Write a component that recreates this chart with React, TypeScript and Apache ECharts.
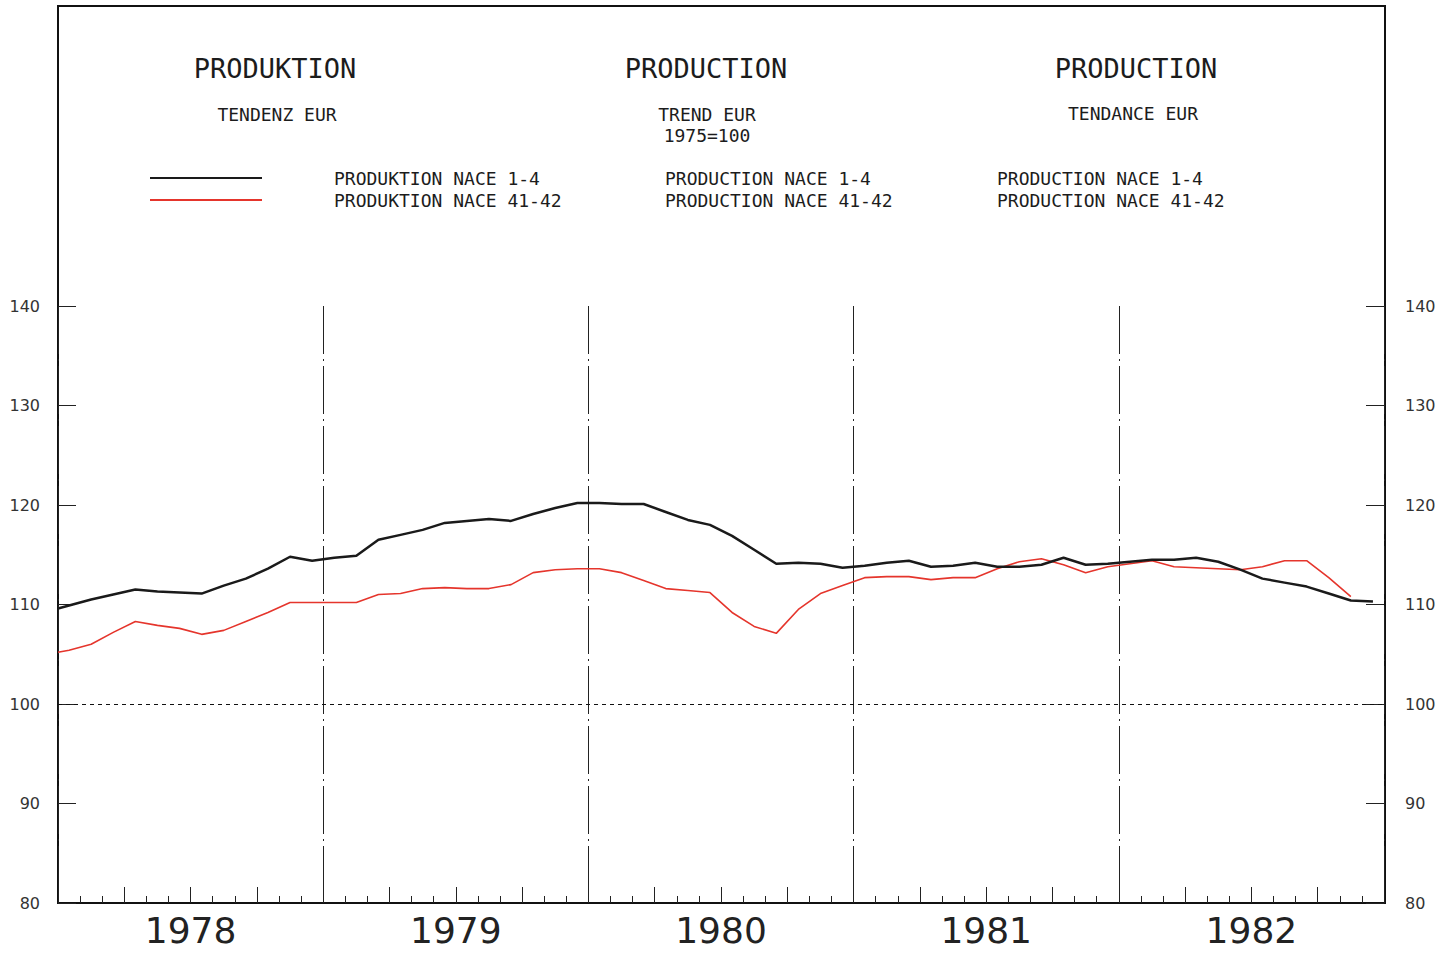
import React, { useEffect, useRef } from "react";
import * as echarts from "echarts";

// ---- data ----
const years = ["1978", "1979", "1980", "1981", "1982"];
const yMin = 80;
const yMax = 140;
const yStep = 10;
const monthsPerYear = 12;

// value where each trend line starts on the left axis (January 1978)
const nace14Start = 109.6;
const nace4142Start = 105.2;

// monthly trend values (Jan 1978 ... Dec 1982)
const nace14 = [
  109.9, 110.5, 111.0, 111.5, 111.3, 111.2, 111.1, 111.9, 112.6, 113.6, 114.8, 114.4,
  114.7, 114.9, 116.5, 117.0, 117.5, 118.2, 118.4, 118.6, 118.4, 119.1, 119.7, 120.2,
  120.2, 120.1, 120.1, 119.3, 118.5, 118.0, 116.9, 115.5, 114.1, 114.2, 114.1, 113.7,
  113.9, 114.2, 114.4, 113.8, 113.9, 114.2, 113.8, 113.8, 114.0, 114.7, 114.0, 114.1,
  114.3, 114.5, 114.5, 114.7, 114.3, 113.5, 112.6, 112.2, 111.8, 111.1, 110.4, 110.3,
];
const nace4142 = [
  105.4, 106.0, 107.2, 108.3, 107.9, 107.6, 107.0, 107.4, 108.3, 109.2, 110.2, 110.2,
  110.2, 110.2, 111.0, 111.1, 111.6, 111.7, 111.6, 111.6, 112.0, 113.2, 113.5, 113.6,
  113.6, 113.2, 112.4, 111.6, 111.4, 111.2, 109.2, 107.8, 107.1, 109.5, 111.1, 111.9,
  112.7, 112.8, 112.8, 112.5, 112.7, 112.7, 113.6, 114.3, 114.6, 114.0, 113.2, 113.8,
  114.1, 114.4, 113.8, 113.7, 113.6, 113.5, 113.8, 114.4, 114.4, 112.7, 110.8, null,
];

const seriesNames = ["PRODUKTION NACE 1-4", "PRODUKTION NACE 41-42"];

const toPoints = (start: number, vals: (number | null)[]) => {
  const pts: [number, number][] = [[0, start]];
  vals.forEach((v, i) => {
    if (v !== null) pts.push([i + 0.5, v]);
  });
  return pts;
};

const MONO = "'DejaVu Sans Mono', monospace";
const SANS = "'DejaVu Sans', sans-serif";

export default function App() {
  const ref = useRef<HTMLDivElement>(null);

  useEffect(() => {
    if (!ref.current) return;
    const chart = echarts.init(ref.current, undefined, { renderer: "svg" });
    const totalMonths = years.length * monthsPerYear;

    const txt = (text: string, x: number, y: number, size: number, align = "center") => ({
      type: "text",
      x,
      y,
      silent: true,
      style: {
        text,
        font: `normal ${size}px ${MONO}`,
        fill: "#1c1c1c",
        textAlign: align,
        textVerticalAlign: "middle",
      },
    });

    const baseX = {
      type: "value",
      min: 0,
      max: totalMonths,
      position: "bottom",
      axisLine: { show: false, onZero: false },
      splitLine: { show: false },
    };
    const baseY = {
      type: "value",
      min: yMin,
      max: yMax,
      interval: yStep,
      axisLine: { show: false, onZero: false },
      splitLine: { show: false },
      axisTick: { show: true, inside: true, length: 18, lineStyle: { color: "#222", width: 1 } },
    };

    chart.setOption({
      animation: false,
      backgroundColor: "#ffffff",
      grid: { left: 58, right: 67, top: 306, bottom: 52, containLabel: false },
      legend: {
        left: 145,
        top: 164,
        orient: "vertical",
        icon: "rect",
        itemWidth: 112,
        itemHeight: 2,
        itemGap: 4,
        selectedMode: false,
        textStyle: {
          fontFamily: MONO,
          fontSize: 18,
          color: "#1c1c1c",
          padding: [0, 0, 0, 67],
        },
        data: seriesNames,
      },
      xAxis: [
        {
          ...baseX,
          interval: 1,
          axisTick: { show: true, inside: true, length: 7, lineStyle: { color: "#222" } },
          axisLabel: {
            show: true,
            margin: 9,
            fontSize: 36,
            fontFamily: SANS,
            color: "#222",
            formatter: (v: number) =>
              v % monthsPerYear === monthsPerYear / 2
                ? years[(v - monthsPerYear / 2) / monthsPerYear]
                : "",
          },
        },
        {
          ...baseX,
          interval: 3,
          axisTick: { show: true, inside: true, length: 16, lineStyle: { color: "#222" } },
          axisLabel: { show: false },
        },
        {
          ...baseX,
          interval: monthsPerYear,
          axisTick: { show: false },
          axisLabel: { show: false },
          splitLine: {
            show: true,
            lineStyle: { color: "#222", width: 1, type: [48, 5, 2, 5] },
          },
        },
      ],
      yAxis: [
        {
          ...baseY,
          position: "left",
          axisLabel: { margin: 18, fontSize: 16, color: "#333", fontFamily: SANS },
        },
        {
          ...baseY,
          position: "right",
          axisLabel: { margin: 21, fontSize: 16, color: "#333", fontFamily: SANS },
        },
      ],
      series: [
        {
          name: seriesNames[0],
          type: "line",
          xAxisIndex: 0,
          yAxisIndex: 0,
          symbol: "none",
          color: "#1a1a1a",
          lineStyle: { color: "#1a1a1a", width: 2.5 },
          data: toPoints(nace14Start, nace14),
          z: 3,
          markLine: {
            silent: true,
            symbol: "none",
            label: { show: false },
            lineStyle: { color: "#111", width: 1, type: [4, 4] },
            data: [{ yAxis: 100 }],
          },
        },
        {
          name: seriesNames[1],
          type: "line",
          xAxisIndex: 0,
          yAxisIndex: 0,
          symbol: "none",
          color: "#e5352c",
          lineStyle: { color: "#e5352c", width: 1.6 },
          data: toPoints(nace4142Start, nace4142),
          z: 2,
        },
      ],
      graphic: [
        {
          type: "rect",
          silent: true,
          shape: { x: 58, y: 6, width: 1327, height: 897 },
          style: { fill: "none", stroke: "#111", lineWidth: 2 },
        },
        txt("PRODUKTION", 275, 68, 27),
        txt("TENDENZ EUR", 277, 114, 18),
        txt("PRODUCTION", 706, 68, 27),
        txt("TREND EUR", 707, 114, 18),
        txt("1975=100", 707, 135, 18),
        txt("PRODUCTION", 1136, 68, 27),
        txt("TENDANCE EUR", 1133, 113, 18),
        txt("PRODUCTION NACE 1-4", 665, 178, 18, "left"),
        txt("PRODUCTION NACE 41-42", 665, 200, 18, "left"),
        txt("PRODUCTION NACE 1-4", 997, 178, 18, "left"),
        txt("PRODUCTION NACE 41-42", 997, 200, 18, "left"),
      ],
    });

    return () => chart.dispose();
  }, []);

  return (
    <div
      ref={ref}
      style={{ position: "fixed", left: 0, top: 0, width: "1451px", height: "955px" }}
    />
  );
}
